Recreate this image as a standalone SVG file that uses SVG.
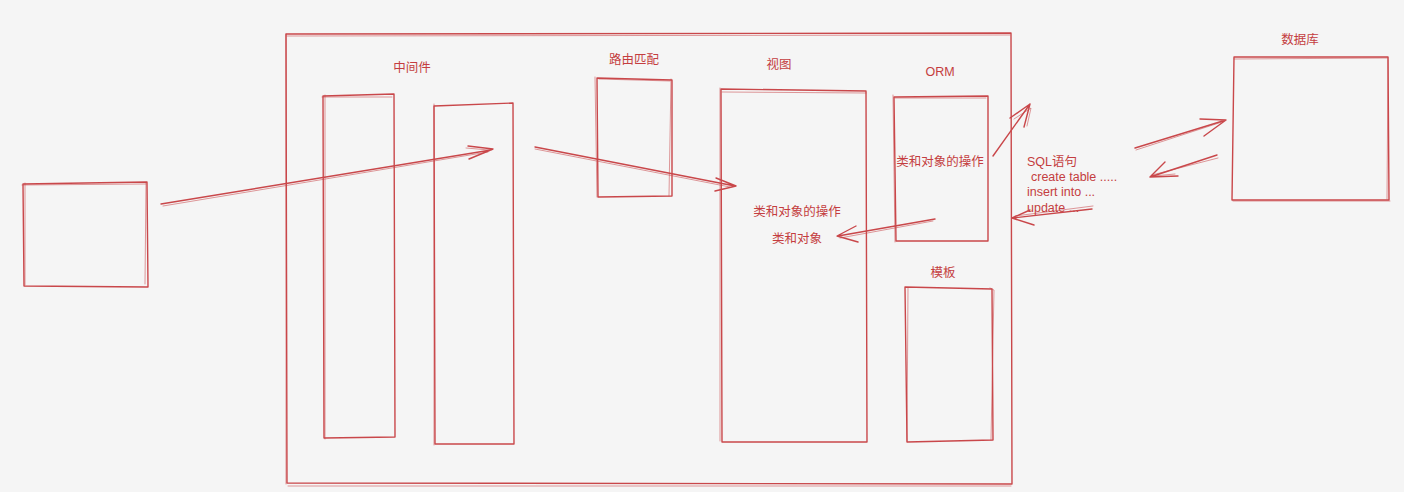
<svg xmlns="http://www.w3.org/2000/svg" width="1404" height="492" viewBox="0 0 1404 492">
<style>
.s{fill:none;stroke:#c9474a;stroke-width:1.4;stroke-linecap:round;stroke-linejoin:round}
.s2{fill:none;stroke:#c9474a;stroke-width:1;stroke-opacity:0.55;stroke-linecap:round}
.t{font-family:"Liberation Sans","Noto Sans CJK SC",sans-serif;font-size:12.5px;fill:#c43d40}
.m{text-anchor:middle}
</style>
<rect width="1404" height="492" fill="#f5f5f5"/>
<g id="frame">
<path class="s" d="M286,34 L1011,33 L1012,484 L287,483 Z"/>
<path class="s2" d="M287,36 L1010,35 M286,34 L286,484 M288,486 L1011,486"/>
</g>
<g id="client">
<path class="s" d="M23,184 L147,182 L148,287 L24,286 Z"/>
<path class="s2" d="M25,183 L25,285 M22,185 L146,184 M146,183 L145,284"/>
</g>
<g id="middleware">
<text class="t m" x="412" y="72">中间件</text>
<g id="mw1">
<path class="s" d="M323,96 L394,94 L395,437 L324,438 Z"/>
<path class="s2" d="M325,95 L325,439 M322,97 L392,97"/>
</g>
<g id="mw2">
<path class="s" d="M434,106 L513,103 L514,444 L435,444 Z"/>
<path class="s2" d="M434,104 L434,445"/>
</g>
</g>
<g id="router">
<text class="t m" x="634" y="64">路由匹配</text>
<path class="s" d="M597,78 L672,80 L672,196 L598,197 Z"/>
<path class="s2" d="M595,77 L597,197 M599,79 L670,81 M671,79 L669,196"/>
</g>
<g id="view">
<text class="t m" x="779" y="69">视图</text>
<path class="s" d="M721,89 L866,91 L867,442 L722,442 Z"/>
<path class="s2" d="M720,88 L720,441 M722,92 L866,93"/>
<text class="t m" x="797" y="216">类和对象的操作</text>
<text class="t m" x="797" y="243">类和对象</text>
</g>
<g id="orm">
<text class="t m" x="940" y="76">ORM</text>
<path class="s" d="M894,97 L988,96 L988,241 L896,241 Z"/>
<path class="s2" d="M893,95 L895,242 M895,98 L986,98"/>
<text class="t m" x="940" y="166">类和对象的操作</text>
</g>
<g id="template">
<text class="t m" x="943" y="277">模板</text>
<path class="s" d="M905,287 L992,289 L993,440 L907,442 Z"/>
<path class="s2" d="M908,288 L907,441 M990,288 L994,290 L991,440"/>
</g>
<g id="database">
<text class="t m" x="1300" y="44">数据库</text>
<path class="s" d="M1234,57 L1388,57 L1389,200 L1232,200 Z"/>
<path class="s2" d="M1234,59 L1388,58 M1233,201 L1390,201 M1388,60 L1387,199"/>
</g>
<g id="sql">
<text class="t" x="1027" y="166">SQL语句</text>
<text class="t" x="1031" y="181">create table .....</text>
<text class="t" x="1027" y="196">insert into ...</text>
<text class="t" x="1027" y="212">update ...</text>
</g>
<g id="connectors">
<path class="s" d="M161,204 L491,150 M468,146 L493,149 L469,159"/>
<path class="s2" d="M163,206 L488,152 M466,148 L489,150"/>
<path class="s" d="M535,147 L735,186 M716,178 L736,186 L715,191"/>
<path class="s2" d="M535,149 L730,187"/>
<path class="s" d="M935,219 L838,236 M856,226 L837,236 L858,242"/>
<path class="s2" d="M933,221 L840,238"/>
<path class="s" d="M993,156 L1030,104 M1010,118 L1030,104 L1024,127"/>
<path class="s2" d="M1014,119 L1031,108 L1027,126"/>
<path class="s" d="M1092,209 L1013,218 M1030,210 L1012,218 L1034,225"/>
<path class="s2" d="M1093,206 L1015,216"/>
<path class="s" d="M1135,148 L1226,120 M1200,119 L1226,120 L1204,136"/>
<path class="s2" d="M1136,150 L1222,122"/>
<path class="s" d="M1217,155 L1150,177 M1165,162 L1150,177 L1178,176"/>
<path class="s2" d="M1218,158 L1152,175 M1153,176 L1175,174"/>
</g>
</svg>
